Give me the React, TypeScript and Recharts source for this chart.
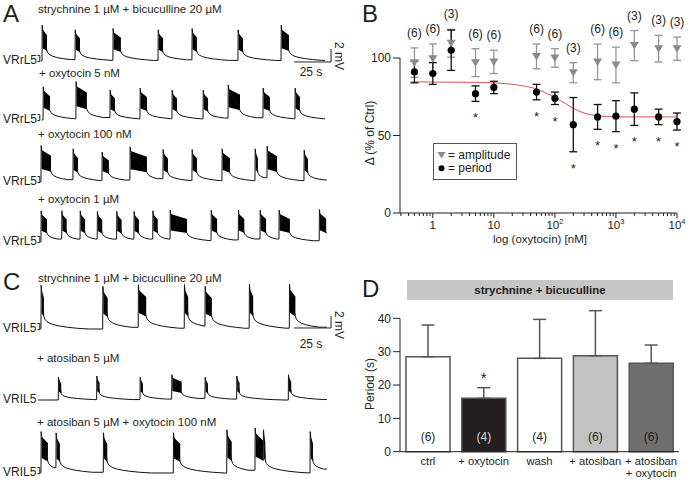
import React from "react";
import {
  ComposedChart,
  BarChart,
  Line,
  Area,
  Bar,
  Scatter,
  XAxis,
  YAxis,
  ErrorBar,
  ReferenceLine,
  ReferenceDot,
  LabelList,
  Cell,
} from "recharts";

const FONT = "'Liberation Sans', Arial, Helvetica, sans-serif";
const INK = "#231f20";
const AMP_GRAY = "#8a8a8a";
const BAR_EDGE = "#555555";

/* ===================== Panels A and C: VR traces ===================== */
// burst onset (s), burst duration (s), burst peak (mV)
const a1Onsets = [0.7, 23.0, 48.6, 79.1, 102.0, 133.1, 162.2];
const a1Durations = [3.4, 3.4, 5.4, 3.4, 3.4, 3.4, 5.4];
const a1Peaks = [5.5, 4.8, 5.0, 4.8, 5.0, 4.8, 5.5];

const a2Onsets = [1.4, 23.6, 46.6, 66.9, 88.5, 109.5, 126.4, 150.0, 171.6];
const a2Durations = [4.7, 7.4, 3.4, 4.7, 3.4, 3.4, 8.1, 4.7, 3.4];
const a2Peaks = [5.1, 5.9, 4.6, 4.9, 4.6, 4.6, 5.4, 4.9, 4.9];

const a3Onsets = [0, 21.6, 41.2, 60.1, 82.4, 102.0, 122.3, 144.6, 152.7, 177.7];
const a3Durations = [6.8, 3.4, 4.7, 11.5, 3.4, 3.4, 5.4, 2.0, 6.8, 2.7];
const a3Peaks = [5.6, 5.1, 4.6, 5.4, 5.0, 5.0, 5.1, 5.1, 5.5, 4.9];

const a4Onsets = [0, 14.0, 26.4, 38.0, 51.1, 62.8, 75.5, 87.2, 114.9, 133.3, 148.0, 160.8, 188.0];
const a4Durations = [4.1, 3.4, 3.4, 3.4, 3.4, 3.4, 3.4, 11.5, 4.1, 4.1, 4.1, 7.4, 4.7];
const a4Peaks = [4.8, 4.8, 4.8, 4.7, 4.7, 4.7, 4.8, 4.9, 4.9, 4.9, 4.9, 4.9, 5.0];

const c1Onsets = [0, 41.7, 65.7, 96.8, 110.8, 140.7, 167.8];
const c1Durations = [2.0, 3.4, 5.4, 2.7, 4.7, 2.7, 4.1];
const c1Peaks = [7.3, 7.1, 7.4, 7.4, 7.1, 7.5, 7.5];

const c2Onsets = [11.7, 37.6, 66.9, 88.3, 110.8, 132.2, 167.1];
const c2Durations = [2.0, 2.0, 2.0, 6.8, 2.0, 2.0, 2.0];
const c2Peaks = [3.8, 4.0, 3.8, 4.2, 3.8, 4.0, 4.2];

const c3Onsets = [0, 10.1, 42.1, 89.4, 125.5, 144.6, 150.2, 181.8];
const c3Durations = [4.7, 2.7, 2.7, 4.7, 3.4, 5.4, 1.4, 2.0];
const c3Peaks = [6.9, 6.7, 6.7, 6.7, 7.2, 7.5, 7.2, 6.9];

// recording start / end (s)
const aStarts = [0, 0.5, -0.3, -0.3];
const aEnds = [192, 192, 193.2, 193.2];
const cStarts = [-0.3, -2, -0.3];
const cEnds = [193.2, 193.2, 193.2];

// post-burst relaxation (s after burst end, fraction of peak)
const DECAY_AFTER = [0.7, 2, 4, 7, 11, 16, 22, 30];
const DECAY_LEVEL = [0.22, 0.17, 0.13, 0.095, 0.065, 0.04, 0.018, 0];
// envelope of the fast oscillations during a burst (fraction of peak, start/end)
const BLOCK_TOP = [0.88, 0.72];
const BLOCK_BOTTOM = [0.36, 0.28];

const aLabels = ["strychnine 1 µM + bicuculline 20 µM", "+ oxytocin 5 nM", "+ oxytocin 100 nM", "+ oxytocin 1 µM"];
const cLabels = ["strychnine 1 µM + bicuculline 20 µM", "+ atosiban 5 µM", "+ atosiban 5 µM + oxytocin 100 nM"];
const SCALE_S = 25;
const SCALE_MV = 2;

const T_MIN = -2;
const T_MAX = 198;
const PX_PER_S = 1.48;
const TRACE_LEFT = 41 + T_MIN * PX_PER_S;
const TRACE_WIDTH = (T_MAX - T_MIN) * PX_PER_S;
const Y_MIN = -1;
const Y_MAX = 8;

function buildTrace(onsets: number[], durations: number[], peaks: number[], start: number, end: number) {
  const line: { t: number; v: number }[] = [{ t: start, v: 0 }];
  const blocks: { t: number; r: [number, number] | null }[] = [];
  onsets.forEach((t0, i) => {
    const a = peaks[i];
    const w = durations[i];
    const next = i < onsets.length - 1 ? onsets[i + 1] : end;
    const prev = line[line.length - 1].v;
    line.push({ t: t0, v: prev });
    line.push({ t: t0 + 0.15, v: a });
    line.push({ t: t0 + 0.45, v: BLOCK_TOP[0] * a });
    line.push({ t: t0 + w, v: BLOCK_BOTTOM[1] * a });
    blocks.push({ t: t0 + 0.45, r: [BLOCK_BOTTOM[0] * a, BLOCK_TOP[0] * a] });
    blocks.push({ t: t0 + w, r: [BLOCK_BOTTOM[1] * a, BLOCK_TOP[1] * a] });
    blocks.push({ t: t0 + w + 0.05, r: null });
    DECAY_AFTER.forEach((dt, k) => {
      if (t0 + w + dt < next) line.push({ t: t0 + w + dt, v: DECAY_LEVEL[k] * a });
    });
  });
  line.push({ t: end, v: line[line.length - 1].v });
  return { line, blocks };
}

function Trace(props: {
  onsets: number[];
  durations: number[];
  peaks: number[];
  start: number;
  end: number;
  baseline: number;
  pxPerMv: number;
  scaleBarY?: number;
}) {
  const { line, blocks } = buildTrace(props.onsets, props.durations, props.peaks, props.start, props.end);
  const height = (Y_MAX - Y_MIN) * props.pxPerMv;
  const top = props.baseline - Y_MAX * props.pxPerMv;
  const sb = props.scaleBarY;
  const sbEnd = 196;
  return (
    <div style={{ position: "absolute", left: TRACE_LEFT, top }}>
      <ComposedChart width={TRACE_WIDTH} height={height} margin={{ top: 0, right: 0, bottom: 0, left: 0 }}>
        <XAxis type="number" dataKey="t" domain={[T_MIN, T_MAX]} hide allowDataOverflow />
        <YAxis type="number" domain={[Y_MIN, Y_MAX]} hide allowDataOverflow />
        <Line
          data={line}
          dataKey="v"
          type="linear"
          stroke="#111111"
          strokeWidth={1}
          dot={false}
          activeDot={false}
          isAnimationActive={false}
        />
        <Area
          data={blocks}
          dataKey="r"
          type="linear"
          stroke="none"
          fill="#000000"
          fillOpacity={1}
          isAnimationActive={false}
        />
        {sb !== undefined && (
          <ReferenceLine
            segment={[
              { x: sbEnd - SCALE_S, y: sb },
              { x: sbEnd, y: sb },
            ]}
            stroke={INK}
            strokeWidth={1}
          />
        )}
        {sb !== undefined && (
          <ReferenceLine
            segment={[
              { x: sbEnd, y: sb },
              { x: sbEnd, y: sb + SCALE_MV },
            ]}
            stroke={INK}
            strokeWidth={1}
          />
        )}
      </ComposedChart>
    </div>
  );
}

/* ===================== Panel B: dose response ===================== */
const bConc = [0.5, 1, 2, 5, 10, 50, 100, 200, 500, 1000, 2000, 5000, 10000];
const ampMean = [97, 99.5, 109.5, 97, 97.5, 101, 100, 90.5, 97.5, 95.5, 108, 106, 106];
const ampErr = [9.5, 9.6, 9, 9, 7.5, 8, 6, 6.5, 11.5, 11.5, 9.7, 8.6, 7.5];
const perMean = [91, 90, 105, 77, 81, 78, 74, 57, 62, 62.5, 67, 62, 59];
const perErr = [7, 7, 13, 5, 4, 5, 4, 17.5, 8, 10, 10.5, 5, 5.5];
const nCells = [6, 6, 3, 6, 6, 6, 6, 3, 6, 6, 3, 3, 3];
const perSignificant = [false, false, false, true, false, true, true, true, true, true, true, true, true];
const fitConc = [0.45, 1, 5, 10, 20, 30, 50, 70, 100, 150, 200, 300, 500, 1000, 3000, 10000];
const fitValue = [84.6, 84.5, 84.3, 84, 83, 82, 80, 77.5, 74.5, 70.5, 67.5, 64.5, 62.7, 62, 62, 62];
const bMajorTicks = [1, 10, 100, 1000, 10000];
const bMajorBase = ["1", "10", "10", "10", "10"];
const bMajorExp = ["", "", "2", "3", "4"];
const bMinorTicks = [
  0.3, 0.4, 0.5, 0.6, 0.7, 0.8, 0.9, 2, 3, 4, 5, 6, 7, 8, 9, 20, 30, 40, 50, 60, 70, 80, 90, 200, 300, 400, 500,
  600, 700, 800, 900, 2000, 3000, 4000, 5000, 6000, 7000, 8000, 9000,
];
const bYTicks = [0, 50, 100];

const ampData = bConc.map((c, i) => ({ c, y: ampMean[i], e: ampErr[i] }));
const perData = bConc.map((c, i) => ({ c, y: perMean[i], e: perErr[i] }));
const nData = bConc.map((c, i) => ({ c, y: ampMean[i] + ampErr[i], n: nCells[i] }));
const starData = bConc
  .map((c, i) => ({ c, y: perMean[i] - perErr[i], s: perSignificant[i] }))
  .filter((d) => d.s);
const fitData = fitConc.map((c, i) => ({ c, y: fitValue[i] }));

function LogTick(props: any) {
  const { x, y, payload } = props;
  const idx = bMajorTicks.indexOf(payload.value);
  const major = idx >= 0;
  return (
    <g>
      <line x1={x} x2={x} y1={y} y2={y + (major ? 5 : 3)} stroke={INK} strokeWidth={1} />
      {major && (
        <text x={x} y={y + 15.5} textAnchor="middle" fontSize={11.5} fill={INK} fontFamily={FONT}>
          {bMajorBase[idx]}
          {bMajorExp[idx] && (
            <tspan dy={-5} fontSize={7.5}>
              {bMajorExp[idx]}
            </tspan>
          )}
        </text>
      )}
    </g>
  );
}

function DownTriangle(props: any) {
  const { cx, cy } = props;
  if (cx == null || cy == null) return null;
  return <polygon points={`${cx - 4.5},${cy - 3.5} ${cx + 4.5},${cy - 3.5} ${cx},${cy + 4}`} fill={AMP_GRAY} />;
}

function BlackDot(props: any) {
  const { cx, cy } = props;
  if (cx == null || cy == null) return null;
  return <circle cx={cx} cy={cy} r={3.6} fill="#000000" />;
}

function NText(props: any) {
  const { cx, cy, payload } = props;
  if (cx == null || cy == null) return null;
  return (
    <text x={cx} y={cy - 11} textAnchor="middle" fontSize={12} fill={INK} fontFamily={FONT}>
      ({payload.n})
    </text>
  );
}

function StarText(props: any) {
  const { cx, cy } = props;
  if (cx == null || cy == null) return null;
  return (
    <text x={cx} y={cy + 21} textAnchor="middle" fontSize={13} fill={INK} fontFamily={FONT}>
      *
    </text>
  );
}

function PanelB() {
  return (
    <div style={{ position: "absolute", left: 345, top: 0 }}>
      <ComposedChart width={344} height={250} margin={{ top: 11.5, right: 12, bottom: 7, left: 25 }}>
        <XAxis
          type="number"
          dataKey="c"
          scale="log"
          domain={[0.29, 10000]}
          ticks={[...bMinorTicks, ...bMajorTicks]}
          interval={0}
          tick={<LogTick />}
          tickLine={false}
          tickSize={0}
          tickMargin={0}
          axisLine={{ stroke: INK }}
          height={30}
        />
        <YAxis
          type="number"
          dataKey="y"
          domain={[0, 130]}
          ticks={bYTicks}
          interval={0}
          width={30}
          axisLine={false}
          tickSize={7}
          tickMargin={2}
          tickLine={{ stroke: INK }}
          tick={{ fontSize: 12, fill: INK, fontFamily: FONT }}
        />
        <ReferenceLine
          segment={[
            { x: 0.29, y: 0 },
            { x: 0.29, y: 100 },
          ]}
          stroke={INK}
          strokeWidth={1}
        />
        <Line
          data={fitData}
          dataKey="y"
          type="monotone"
          stroke="#e0504e"
          strokeWidth={1}
          dot={false}
          activeDot={false}
          isAnimationActive={false}
        />
        <Scatter data={ampData} shape={<DownTriangle />} fill={AMP_GRAY} isAnimationActive={false}>
          <ErrorBar dataKey="e" direction="y" width={4} stroke="#959595" strokeWidth={1.3} />
        </Scatter>
        <Scatter data={perData} shape={<BlackDot />} fill="#000" isAnimationActive={false}>
          <ErrorBar dataKey="e" direction="y" width={4} stroke="#111111" strokeWidth={1.3} />
        </Scatter>
        <Scatter data={nData} shape={<NText />} isAnimationActive={false} />
        <Scatter data={starData} shape={<StarText />} isAnimationActive={false} />
      </ComposedChart>
    </div>
  );
}

/* ===================== Panel D: period bars ===================== */
const dConditions = ["ctrl", "+ oxytocin", "wash", "+ atosiban", "+ atosiban\n+ oxytocin"];
const dPeriod = [28.5, 16, 28, 28.8, 26.5];
const dPeriodErr = [9.5, 3.2, 11.7, 13.5, 5.5];
const dN = [6, 4, 4, 6, 6];
const dSignificant = [false, true, false, false, false];
const dFill = ["#ffffff", "#231f20", "#ffffff", "#c2c2c2", "#6f6f6f"];
const dLabelColor = [INK, "#d5d5d5", INK, INK, "#1a1a1a"];
const dYTicks = [0, 10, 20, 30, 40];

const dData = dConditions.map((name, i) => ({ name, y: dPeriod[i], e: [0, dPeriodErr[i]], n: dN[i] }));

function DTick(props: any) {
  const { x, y, payload } = props;
  const lines = String(payload.value).split("\n");
  return (
    <text x={x} y={y} textAnchor="middle" fontSize={11.2} fill={INK} fontFamily={FONT}>
      {lines.map((l, i) => (
        <tspan key={i} x={x} dy={i === 0 ? 13.5 : 12}>
          {l}
        </tspan>
      ))}
    </text>
  );
}

function NInside(props: any) {
  const { x, y, width, height, value, index } = props;
  const color = index != null ? dLabelColor[index] : INK;
  return (
    <text
      x={Number(x) + Number(width) / 2}
      y={Number(y) + Number(height) - 10.5}
      textAnchor="middle"
      fontSize={12}
      fill={color}
      fontFamily={FONT}
    >
      ({value})
    </text>
  );
}

function PanelD() {
  return (
    <div style={{ position: "absolute", left: 345, top: 290 }}>
      <BarChart width={344} height={193} data={dData} margin={{ top: 11.7, right: 10, bottom: 3.3, left: 25 }}>
        <XAxis
          dataKey="name"
          type="category"
          height={28}
          tickLine={false}
          tickSize={0}
          tickMargin={0}
          interval={0}
          tick={<DTick />}
          axisLine={{ stroke: INK }}
        />
        <YAxis
          type="number"
          domain={[0, 45]}
          ticks={dYTicks}
          interval={0}
          width={30}
          axisLine={false}
          tickSize={7}
          tickMargin={2}
          tickLine={{ stroke: INK }}
          tick={{ fontSize: 12, fill: INK, fontFamily: FONT }}
        />
        <ReferenceLine
          segment={[
            { x: "ctrl", y: 0 },
            { x: "ctrl", y: 40 },
          ]}
          position="start"
          stroke={INK}
          strokeWidth={1}
        />
        <Bar dataKey="y" barSize={44} stroke={BAR_EDGE} strokeWidth={1.5} isAnimationActive={false}>
          {dData.map((d, i) => (
            <Cell key={d.name} fill={dFill[i]} />
          ))}
          <ErrorBar dataKey="e" direction="y" width={6.5} stroke={BAR_EDGE} strokeWidth={1.5} />
          <LabelList dataKey="n" content={<NInside />} />
        </Bar>
        {dConditions.map((name, i) =>
          dSignificant[i] ? (
            <ReferenceDot
              key={name}
              x={name}
              y={dPeriod[i] + dPeriodErr[i]}
              r={0}
              fill="none"
              stroke="none"
              label={{ value: "*", position: "top", offset: 5, fontSize: 15, fill: INK, fontFamily: FONT }}
            />
          ) : null
        )}
      </BarChart>
    </div>
  );
}

/* ===================== Layout ===================== */
const A_BASELINES = [61, 120, 182, 242];
const C_BASELINES = [329, 400, 473];

function Bracket({ y }: { y: number }) {
  return <path d={`M37.5 ${y - 5.5} H39.8 V${y + 0.5} H37.5`} fill="none" stroke={INK} strokeWidth={1} />;
}

export default function App() {
  const aTraces = [
    [a1Onsets, a1Durations, a1Peaks],
    [a2Onsets, a2Durations, a2Peaks],
    [a3Onsets, a3Durations, a3Peaks],
    [a4Onsets, a4Durations, a4Peaks],
  ];
  const cTraces = [
    [c1Onsets, c1Durations, c1Peaks],
    [c2Onsets, c2Durations, c2Peaks],
    [c3Onsets, c3Durations, c3Peaks],
  ];
  return (
    <div
      style={{
        position: "absolute",
        left: 0,
        top: 0,
        width: 689,
        height: 483,
        background: "#ffffff",
        overflow: "hidden",
        fontFamily: FONT,
      }}
    >
      {aTraces.map((tr, i) => (
        <Trace
          key={"a" + i}
          onsets={tr[0]}
          durations={tr[1]}
          peaks={tr[2]}
          start={aStarts[i]}
          end={aEnds[i]}
          baseline={A_BASELINES[i]}
          pxPerMv={6.5}
          scaleBarY={i === 0 ? -0.15 : undefined}
        />
      ))}
      {cTraces.map((tr, i) => (
        <Trace
          key={"c" + i}
          onsets={tr[0]}
          durations={tr[1]}
          peaks={tr[2]}
          start={cStarts[i]}
          end={cEnds[i]}
          baseline={C_BASELINES[i]}
          pxPerMv={6}
          scaleBarY={i === 0 ? 0.17 : undefined}
        />
      ))}
      <PanelB />
      <PanelD />
      <svg
        width={689}
        height={483}
        style={{ position: "absolute", left: 0, top: 0, pointerEvents: "none" }}
        fontFamily={FONT}
      >
        {/* panel letters */}
        <text x={3} y={22} fontSize={24} fill={INK}>A</text>
        <text x={362} y={21.5} fontSize={24} fill={INK}>B</text>
        <text x={3} y={290} fontSize={24} fill={INK}>C</text>
        <text x={362} y={297} fontSize={24} fill={INK}>D</text>

        {/* panel A labels */}
        <text x={38} y={13} fontSize={11.5} fill={INK}>{aLabels[0]}</text>
        <text x={39} y={76.5} fontSize={11.5} fill={INK}>{aLabels[1]}</text>
        <text x={38} y={138} fontSize={11.5} fill={INK}>{aLabels[2]}</text>
        <text x={38} y={203} fontSize={11.5} fill={INK}>{aLabels[3]}</text>
        {A_BASELINES.map((b, i) => (
          <g key={"la" + i}>
            <text x={3} y={b + 2.8} fontSize={12} fill={INK}>VRrL5</text>
            <Bracket y={b} />
          </g>
        ))}
        <text x={311} y={75.5} fontSize={12} textAnchor="middle" fill={INK}>25 s</text>
        <text transform="translate(335,56) rotate(90)" fontSize={12} textAnchor="middle" fill={INK}>2 mV</text>

        {/* panel C labels */}
        <text x={38} y={281.5} fontSize={11.5} fill={INK}>{cLabels[0]}</text>
        <text x={37} y={361.5} fontSize={11.5} fill={INK}>{cLabels[1]}</text>
        <text x={37} y={425.5} fontSize={11.5} fill={INK}>{cLabels[2]}</text>
        {C_BASELINES.map((b, i) => (
          <g key={"lc" + i}>
            <text x={3} y={b + 3} fontSize={12} fill={INK}>VRIL5</text>
            {i !== 1 && <Bracket y={b} />}
          </g>
        ))}
        <text x={311} y={348} fontSize={12} textAnchor="middle" fill={INK}>25 s</text>
        <text transform="translate(335,325) rotate(90)" fontSize={12} textAnchor="middle" fill={INK}>2 mV</text>

        {/* panel B axis titles and legend */}
        <text transform="translate(374,133) rotate(-90)" fontSize={12} textAnchor="middle" fill={INK}>
          Δ (% of Ctrl)
        </text>
        <text x={540} y={242.5} fontSize={11.5} textAnchor="middle" fill={INK}>log (oxytocin) [nM]</text>
        <rect x={433.5} y={143.5} width={83} height={36} fill="#ffffff" stroke="#555555" strokeWidth={1} />
        <polygon points="437.5,152 445.5,152 441.5,158.5" fill={AMP_GRAY} />
        <text x={448} y={159} fontSize={12} fill={INK}>= amplitude</text>
        <circle cx={441.5} cy={168.3} r={3} fill="#000000" />
        <text x={448} y={172} fontSize={12} fill={INK}>= period</text>

        {/* panel D header and axis title */}
        <rect x={407} y={280} width={266} height={20} fill="#c6c6c6" />
        <text x={540} y={294} fontSize={11.5} fontWeight="bold" textAnchor="middle" fill={INK}>
          strychnine + bicuculline
        </text>
        <text transform="translate(374,384) rotate(-90)" fontSize={12} textAnchor="middle" fill={INK}>
          Period (s)
        </text>
      </svg>
    </div>
  );
}
